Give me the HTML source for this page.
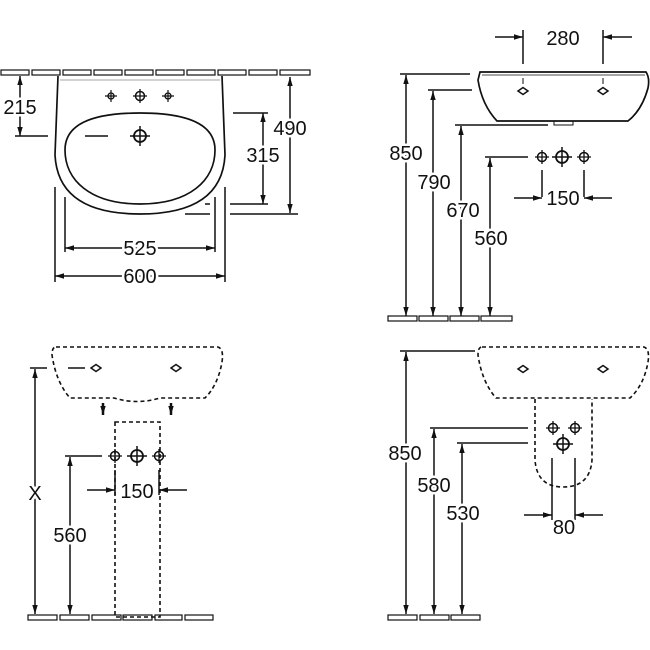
<!DOCTYPE html>
<html><head><meta charset="utf-8"><style>
html,body{margin:0;padding:0;background:#fff;}
svg{display:block;}
text{font-family:"Liberation Sans",sans-serif;font-size:20px;fill:#111;stroke:#fff;stroke-width:5px;paint-order:stroke;}
</style></head><body>
<svg width="650" height="650" viewBox="0 0 650 650" xmlns="http://www.w3.org/2000/svg">
<defs>
<marker id="a" viewBox="0 0 10 10" refX="10" refY="5" markerWidth="9" markerHeight="9" orient="auto-start-reverse" markerUnits="userSpaceOnUse"><path d="M0,2 L10,5 L0,8 z" fill="#111"/></marker>
<g id="hs"><circle r="3" fill="none" stroke="#111" stroke-width="1.3"/><path d="M-6,0H6M0,-6V6" stroke="#111" stroke-width="1.2"/></g>
<g id="hb"><circle r="6" fill="none" stroke="#111" stroke-width="1.8"/><path d="M-10,0H10M0,-10V10" stroke="#111" stroke-width="1.5"/></g>
<g id="hm"><circle r="4.5" fill="none" stroke="#111" stroke-width="1.5"/><path d="M-7,0H7M0,-7V7" stroke="#111" stroke-width="1.3"/></g>
<g id="ho"><path d="M-5,0 L0,-3.5 L5,0 L0,3.5 Z" fill="none" stroke="#111" stroke-width="1.5"/></g>
</defs>
<g stroke="#111" stroke-width="1.5" fill="none">
<g stroke-width="1.2">
<rect x="1" y="70" width="28" height="5"/><rect x="32" y="70" width="28" height="5"/><rect x="63" y="70" width="28" height="5"/><rect x="94" y="70" width="28" height="5"/><rect x="125" y="70" width="28" height="5"/><rect x="156" y="70" width="28" height="5"/><rect x="187" y="70" width="28" height="5"/><rect x="218" y="70" width="28" height="5"/><rect x="249" y="70" width="28" height="5"/><rect x="280" y="70" width="30" height="5"/>
</g>
<path d="M58,76 L55,155 Q58,214 140,214 Q222,214 225,155 L222,76" stroke-width="1.7"/>
<line x1="60" y1="80" x2="220" y2="80" stroke-width="0.8" stroke="#888"/>
<path d="M140,113 C190,113 215,125 215,150 C215,180 190,204 140,204 C90,204 65,180 65,150 C65,125 90,113 140,113 Z" stroke-width="1.7"/>
<line x1="85" y1="136" x2="108" y2="136"/>
<line x1="15" y1="136" x2="48" y2="136"/>
<line x1="20" y1="76" x2="20" y2="136" marker-start="url(#a)" marker-end="url(#a)"/>
<line x1="233" y1="113" x2="268" y2="113"/>
<line x1="230" y1="204" x2="268" y2="204"/>
<line x1="205" y1="204" x2="210" y2="204"/>
<line x1="263" y1="113" x2="263" y2="204" marker-start="url(#a)" marker-end="url(#a)"/>
<line x1="230" y1="214" x2="298" y2="214"/>
<line x1="185" y1="214" x2="210" y2="214"/>
<line x1="290" y1="77" x2="290" y2="213" marker-start="url(#a)" marker-end="url(#a)"/>
<line x1="55" y1="187" x2="55" y2="282"/><line x1="225" y1="187" x2="225" y2="282"/>
<line x1="65" y1="197" x2="65" y2="252"/><line x1="215" y1="197" x2="215" y2="252"/>
<line x1="65" y1="248" x2="215" y2="248" marker-start="url(#a)" marker-end="url(#a)"/>
<line x1="55" y1="276" x2="225" y2="276" marker-start="url(#a)" marker-end="url(#a)"/>

<line x1="495" y1="37" x2="523" y2="37" marker-end="url(#a)"/>
<line x1="632" y1="37" x2="603" y2="37" marker-end="url(#a)"/>
<line x1="523" y1="30" x2="523" y2="64"/><line x1="603" y1="30" x2="603" y2="64"/>
<path d="M480,72 L646,72 Q650,78 648,88 Q642,110 628,121 L497,121 Q482,105 478,80 Z" stroke-width="1.7"/>
<line x1="482" y1="75" x2="645" y2="75" stroke-width="0.8"/>
<rect x="554" y="121" width="19" height="4" stroke-width="1"/>
<line x1="523" y1="78" x2="523" y2="84" stroke-width="1"/><line x1="603" y1="78" x2="603" y2="84" stroke-width="1"/>
<line x1="400" y1="74" x2="470" y2="74"/>
<line x1="428" y1="90" x2="472" y2="90"/>
<line x1="455" y1="125" x2="548" y2="125"/>
<line x1="485" y1="157" x2="528" y2="157"/>
<line x1="406" y1="75" x2="406" y2="316" marker-start="url(#a)" marker-end="url(#a)"/>
<line x1="433" y1="91" x2="433" y2="316" marker-start="url(#a)" marker-end="url(#a)"/>
<line x1="461" y1="126" x2="461" y2="316" marker-start="url(#a)" marker-end="url(#a)"/>
<line x1="490" y1="158" x2="490" y2="316" marker-start="url(#a)" marker-end="url(#a)"/>
<line x1="542" y1="170" x2="542" y2="197"/><line x1="584" y1="170" x2="584" y2="197"/>
<line x1="514" y1="198" x2="542" y2="198" marker-end="url(#a)"/>
<line x1="612" y1="198" x2="584" y2="198" marker-end="url(#a)"/>
<g stroke-width="1.2"><rect x="388" y="316" width="29" height="5"/><rect x="419" y="316" width="29" height="5"/><rect x="450" y="316" width="29" height="5"/><rect x="481" y="316" width="31" height="5"/></g>

<g stroke-dasharray="4,3" stroke-width="1.6">
<path d="M56,347 L218,347 Q224,349 222,362 Q218,385 205,398 L160,398 Q137,405 114,398 L70,398 Q56,382 52,355 Q52,347 56,347 Z"/>
<rect x="115" y="422" width="45" height="195"/>
</g>
<line x1="30" y1="368" x2="47" y2="368"/><line x1="68" y1="368" x2="85" y2="368"/>
<line x1="35" y1="369" x2="35" y2="614" marker-start="url(#a)" marker-end="url(#a)"/>
<line x1="65" y1="456" x2="102" y2="456"/>
<line x1="70" y1="457" x2="70" y2="614" marker-start="url(#a)" marker-end="url(#a)"/>
<line x1="115" y1="470" x2="115" y2="495"/><line x1="159" y1="470" x2="159" y2="495"/>
<line x1="87" y1="490" x2="115" y2="490" marker-end="url(#a)"/>
<line x1="187" y1="490" x2="159" y2="490" marker-end="url(#a)"/>
<line x1="103" y1="403" x2="103" y2="415" stroke-width="2.5" marker-end="url(#a)"/>
<line x1="171" y1="403" x2="171" y2="415" stroke-width="2.5" marker-end="url(#a)"/>
<g stroke-width="1.2"><rect x="28" y="615" width="29" height="5"/><rect x="60" y="615" width="29" height="5"/><rect x="92" y="615" width="29" height="5"/><rect x="123" y="615" width="29" height="5"/><rect x="155" y="615" width="27" height="5"/><rect x="185" y="615" width="28" height="5"/></g>

<g stroke-dasharray="4,3" stroke-width="1.6">
<path d="M482,347 L644,347 Q650,349 648,362 Q644,385 630,398 L496,398 Q482,382 478,355 Q478,347 482,347 Z"/>
<path d="M535,399 L535,460 Q537,487 563,487 Q590,487 592,460 L592,399"/>
</g>
<line x1="400" y1="351" x2="475" y2="351"/>
<line x1="430" y1="428" x2="528" y2="428"/>
<line x1="457" y1="443" x2="528" y2="443"/>
<line x1="406" y1="352" x2="406" y2="614" marker-start="url(#a)" marker-end="url(#a)"/>
<line x1="434" y1="429" x2="434" y2="614" marker-start="url(#a)" marker-end="url(#a)"/>
<line x1="462" y1="444" x2="462" y2="614" marker-start="url(#a)" marker-end="url(#a)"/>
<line x1="552" y1="458" x2="552" y2="520"/><line x1="575" y1="458" x2="575" y2="520"/>
<line x1="524" y1="515" x2="552" y2="515" marker-end="url(#a)"/>
<line x1="603" y1="515" x2="575" y2="515" marker-end="url(#a)"/>
<g stroke-width="1.2"><rect x="388" y="615" width="29" height="5"/><rect x="420" y="615" width="29" height="5"/><rect x="451" y="615" width="29" height="5"/></g>
</g>
<use href="#hs" x="111" y="96"/><use href="#hm" x="140" y="96"/><use href="#hs" x="168" y="96"/>
<use href="#hb" x="140" y="136"/>
<use href="#ho" x="523" y="91"/><use href="#ho" x="603" y="91"/>
<use href="#hm" x="542" y="157"/><use href="#hb" x="562" y="157"/><use href="#hm" x="584" y="157"/>
<use href="#ho" x="96" y="368"/><use href="#ho" x="176" y="368"/>
<use href="#hm" x="115" y="456"/><use href="#hb" x="137" y="456"/><use href="#hm" x="159" y="456"/>
<use href="#ho" x="523" y="369"/><use href="#ho" x="603" y="369"/>
<use href="#hm" x="553" y="428"/><use href="#hm" x="575" y="428"/><use href="#hb" x="563" y="444"/>
<g text-anchor="middle">
<text x="20" y="114">215</text>
<text x="290" y="135">490</text>
<text x="263" y="162">315</text>
<text x="140" y="255">525</text>
<text x="140" y="283">600</text>
<text x="563" y="45">280</text>
<text x="406" y="160">850</text>
<text x="434" y="189">790</text>
<text x="463" y="217">670</text>
<text x="491" y="245">560</text>
<text x="563" y="205">150</text>
<text x="35" y="500">X</text>
<text x="70" y="542">560</text>
<text x="137" y="498">150</text>
<text x="405" y="460">850</text>
<text x="434" y="492">580</text>
<text x="463" y="520">530</text>
<text x="564" y="534">80</text>
</g>
</svg>
</body></html>
